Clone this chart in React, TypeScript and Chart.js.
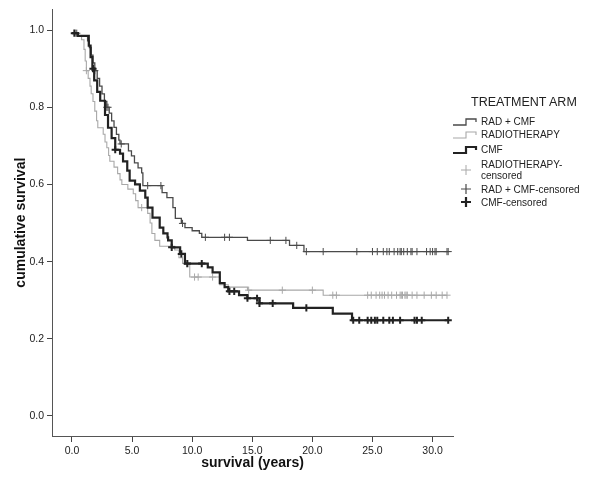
import React, { useEffect, useRef } from "react";
import { Chart, registerables } from "chart.js";

Chart.register(...registerables);

// Step points (time in years, cumulative survival after the drop)
const radCmfSteps: [number, number][] = [
  [0, 0.992], [0.5, 0.985], [1.3, 0.972], [1.45, 0.955], [1.6, 0.935], [1.75, 0.915],
  [1.9, 0.895], [2.1, 0.875], [2.3, 0.855], [2.5, 0.835], [2.7, 0.815], [2.9, 0.8],
  [3.1, 0.785], [3.3, 0.765], [3.5, 0.748], [3.7, 0.73], [3.9, 0.715], [4.0, 0.705],
  [4.7, 0.687], [4.95, 0.674], [5.2, 0.656], [5.5, 0.643], [5.8, 0.63], [5.9, 0.597],
  [7.5, 0.579], [7.9, 0.566], [8.4, 0.54], [8.6, 0.512], [9.1, 0.499], [9.4, 0.488],
  [10.0, 0.48], [10.6, 0.473], [10.8, 0.463], [14.6, 0.455], [18.1, 0.442], [19.3, 0.426],
  [31.3, 0.426],
];
const radiotherapySteps: [number, number][] = [
  [0, 0.992], [0.4, 0.985], [0.8, 0.975], [1.0, 0.95], [1.1, 0.92], [1.2, 0.895],
  [1.35, 0.875], [1.5, 0.855], [1.6, 0.835], [1.75, 0.815], [1.9, 0.79], [2.05, 0.765],
  [2.15, 0.747], [2.6, 0.73], [2.75, 0.71], [2.9, 0.695], [3.05, 0.675], [3.15, 0.66],
  [3.5, 0.645], [3.8, 0.628], [4.0, 0.612], [4.15, 0.6], [4.65, 0.588], [5.1, 0.576],
  [5.3, 0.558], [5.5, 0.54], [6.3, 0.525], [6.5, 0.5], [6.65, 0.473], [6.9, 0.455],
  [7.3, 0.44], [8.55, 0.43], [8.9, 0.41], [9.2, 0.395], [9.8, 0.36], [12.3, 0.34],
  [13.0, 0.334], [14.6, 0.326], [20.9, 0.313], [31.2, 0.313],
];
const cmfSteps: [number, number][] = [
  [0, 0.992], [0.5, 0.985], [1.4, 0.96], [1.55, 0.93], [1.7, 0.9], [1.85, 0.87],
  [2.1, 0.84], [2.35, 0.817], [2.75, 0.78], [3.0, 0.747], [3.3, 0.72], [3.6, 0.69],
  [4.0, 0.68], [4.25, 0.66], [4.6, 0.636], [4.8, 0.61], [5.25, 0.6], [5.65, 0.584],
  [6.1, 0.566], [6.3, 0.54], [6.7, 0.514], [7.3, 0.488], [7.6, 0.473], [7.95, 0.463],
  [8.0, 0.455], [8.3, 0.437], [9.0, 0.42], [9.4, 0.395], [11.3, 0.385], [11.7, 0.372],
  [12.3, 0.344], [12.7, 0.334], [13.0, 0.323], [13.9, 0.313], [14.6, 0.305],
  [15.6, 0.292], [18.4, 0.28], [21.7, 0.265], [23.3, 0.248], [31.3, 0.248],
];

// Censored observations (time, survival level)
const radCmfCensored: [number, number][] = [
  [0.4, 0.992], [1.9, 0.895], [2.9, 0.8], [3.0, 0.8], [4.1, 0.705], [6.3, 0.597],
  [7.4, 0.597], [9.2, 0.499], [11.1, 0.463], [12.7, 0.463], [13.1, 0.463],
  [16.5, 0.455], [17.8, 0.455], [18.7, 0.442], [19.5, 0.426], [20.9, 0.426],
  [23.7, 0.426], [25.0, 0.426], [25.4, 0.426], [25.9, 0.426], [26.2, 0.426],
  [26.4, 0.426], [26.8, 0.426], [27.1, 0.426], [27.3, 0.426], [27.4, 0.426],
  [27.6, 0.426], [27.9, 0.426], [28.2, 0.426], [28.3, 0.426], [28.7, 0.426],
  [29.5, 0.426], [29.8, 0.426], [30.0, 0.426], [30.2, 0.426], [30.3, 0.426],
  [31.2, 0.426], [31.3, 0.426],
];
const radiotherapyCensored: [number, number][] = [
  [0.3, 0.992], [1.2, 0.895], [5.8, 0.54], [9.55, 0.395], [10.2, 0.36], [10.5, 0.36],
  [11.7, 0.36], [14.7, 0.326], [17.5, 0.326], [20.0, 0.326], [21.7, 0.313],
  [22.0, 0.313], [24.6, 0.313], [24.9, 0.313], [25.3, 0.313], [25.6, 0.313],
  [25.8, 0.313], [26.0, 0.313], [26.3, 0.313], [26.6, 0.313], [27.0, 0.313],
  [27.3, 0.313], [27.4, 0.313], [27.5, 0.313], [27.7, 0.313], [27.8, 0.313],
  [27.9, 0.313], [28.3, 0.313], [28.7, 0.313], [29.3, 0.313], [29.9, 0.313],
  [30.3, 0.313], [30.8, 0.313], [31.2, 0.313],
];
const cmfCensored: [number, number][] = [
  [0.2, 0.992], [1.75, 0.9], [3.6, 0.69], [8.3, 0.437], [9.1, 0.42], [9.6, 0.395],
  [10.8, 0.395], [13.1, 0.323], [13.5, 0.323], [14.6, 0.305], [15.4, 0.305],
  [15.6, 0.292], [16.7, 0.292], [19.5, 0.28], [23.4, 0.248], [23.9, 0.248],
  [24.6, 0.248], [24.9, 0.248], [25.2, 0.248], [25.4, 0.248], [25.9, 0.248],
  [26.4, 0.248], [26.7, 0.248], [27.3, 0.248], [28.5, 0.248], [28.7, 0.248],
  [29.1, 0.248], [31.3, 0.248],
];

const xTicks = [0, 5, 10, 15, 20, 25, 30];
const yTicks = [0, 0.2, 0.4, 0.6, 0.8, 1.0];

const FONT = 'Arial, "Liberation Sans", Helvetica, sans-serif';

const toXY = (arr: [number, number][]) => arr.map(([x, y]) => ({ x, y }));

const COLOR_RC = "#4a4a4a";
const COLOR_RT = "#a8a8a8";
const COLOR_CMF = "#222222";

function StepIcon({ color, width }: { color: string; width: number }) {
  return (
    <svg width="26" height="10" style={{ display: "block" }}>
      <path d="M1,8 H14 V2 H24 V5" fill="none" stroke={color} strokeWidth={width} />
    </svg>
  );
}
function PlusIcon({ color, width }: { color: string; width: number }) {
  return (
    <svg width="26" height="12" style={{ display: "block" }}>
      <path d="M14,1 V11 M9,6 H19" fill="none" stroke={color} strokeWidth={width} />
    </svg>
  );
}

export default function App() {
  const ref = useRef<HTMLCanvasElement | null>(null);

  useEffect(() => {
    document.body.style.margin = "0";
    const canvas = ref.current;
    if (!canvas) return;
    const censorDs = (data: [number, number][], color: string, bw: number) => ({
      type: "line" as const,
      data: toXY(data),
      showLine: false,
      pointStyle: "cross" as const,
      pointRadius: 3.6,
      pointBorderColor: color,
      pointBorderWidth: bw,
      pointBackgroundColor: color,
      borderColor: color,
    });
    const stepDs = (data: [number, number][], color: string, bw: number) => ({
      type: "line" as const,
      data: toXY(data),
      stepped: true as const,
      borderColor: color,
      borderWidth: bw,
      pointRadius: 0,
      fill: false,
      tension: 0,
    });
    const chart = new Chart(canvas, {
      type: "line",
      data: {
        datasets: [
          censorDs(cmfCensored, COLOR_CMF, 2),
          stepDs(cmfSteps, COLOR_CMF, 2.2),
          censorDs(radCmfCensored, COLOR_RC, 1),
          stepDs(radCmfSteps, COLOR_RC, 1.3),
          censorDs(radiotherapyCensored, COLOR_RT, 1),
          stepDs(radiotherapySteps, COLOR_RT, 1.1),
        ] as any,
      },
      options: {
        animation: false,
        responsive: false,
        maintainAspectRatio: false,
        layout: { padding: { left: 0, top: 8, right: 147, bottom: 0 } },
        plugins: { legend: { display: false }, tooltip: { enabled: false } },
        scales: {
          x: {
            type: "linear",
            min: -1.66,
            max: 31.7,
            afterBuildTicks: (scale: any) => {
              scale.ticks = xTicks.map((v) => ({ value: v }));
            },
            afterFit: (scale: any) => {
              scale.height = 50;
            },
            grid: { drawOnChartArea: false, drawTicks: true, tickLength: 6, color: "#444", lineWidth: 1 },
            border: { display: true, color: "#555", width: 1 },
            ticks: {
              padding: 3,
              color: "#222",
              font: { family: FONT, size: 10.5 },
              callback: (v: any) => Number(v).toFixed(1),
            },
            title: {
              display: true,
              text: "survival (years)",
              color: "#111",
              font: { family: FONT, size: 14, weight: "bold" },
              padding: { top: 0, bottom: 14 },
            },
          },
          y: {
            type: "linear",
            min: -0.052,
            max: 1.054,
            afterBuildTicks: (scale: any) => {
              scale.ticks = yTicks.map((v) => ({ value: v }));
            },
            afterFit: (scale: any) => {
              scale.width = 52;
            },
            grid: { drawOnChartArea: false, drawTicks: true, tickLength: 5, color: "#444", lineWidth: 1 },
            border: { display: true, color: "#555", width: 1 },
            ticks: {
              padding: 3,
              color: "#222",
              font: { family: FONT, size: 10.5 },
              callback: (v: any) => Number(v).toFixed(1),
            },
            title: {
              display: true,
              text: "cumulative survival",
              color: "#111",
              font: { family: FONT, size: 14, weight: "bold" },
              padding: { top: 13, bottom: 0 },
            },
          },
        },
      },
    });
    return () => chart.destroy();
  }, []);

  const legendText: React.CSSProperties = {
    fontFamily: FONT,
    fontSize: 10,
    color: "#222",
    lineHeight: "11px",
  };
  const row = (icon: React.ReactNode, label: React.ReactNode, top: number) => (
    <div style={{ position: "absolute", left: 452, top, display: "flex", alignItems: "center" }}>
      <div style={{ width: 29 }}>{icon}</div>
      <div style={legendText}>{label}</div>
    </div>
  );

  return (
    <div style={{ position: "relative", width: 600, height: 486, background: "#fff" }}>
      <canvas ref={ref} width={600} height={486} style={{ position: "absolute", left: 0, top: 0, width: 600, height: 486 }} />
      <div
        style={{
          position: "absolute",
          left: 471,
          top: 95,
          fontFamily: FONT,
          fontSize: 12.5,
          color: "#222",
          whiteSpace: "nowrap",
        }}
      >
        TREATMENT ARM
      </div>
      {row(<StepIcon color={COLOR_RC} width={1.3} />, "RAD + CMF", 116)}
      {row(<StepIcon color={COLOR_RT} width={1.1} />, "RADIOTHERAPY", 129)}
      {row(<StepIcon color={COLOR_CMF} width={2.2} />, "CMF", 144)}
      {row(<PlusIcon color={COLOR_RT} width={1} />, <span>RADIOTHERAPY-<br />censored</span>, 159)}
      {row(<PlusIcon color={COLOR_RC} width={1.2} />, "RAD + CMF-censored", 183)}
      {row(<PlusIcon color={COLOR_CMF} width={2.2} />, "CMF-censored", 196)}
    </div>
  );
}
